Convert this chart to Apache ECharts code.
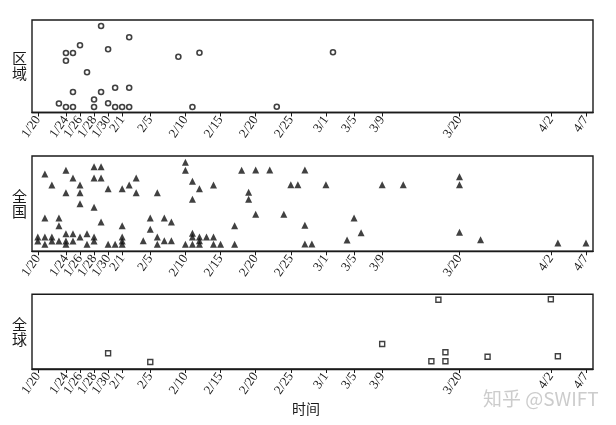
<!DOCTYPE html>
<html><head><meta charset="utf-8">
<script src="https://cdn.jsdelivr.net/npm/echarts@6/dist/echarts.min.js"></script>
<style>html,body{margin:0;padding:0;background:#fff}#c{width:616px;height:425px}</style>
</head><body><div id="c"></div>
<script>
// Tick labels on the date axis
const tickLabels = ['1/20','1/22','1/24','1/26','1/28','1/30','2/1','2/5','2/10','2/15','2/20','2/25','3/1','3/5','3/9','3/20','4/2','4/7'];

// 区域 (regional) events
const regionDates  = ['1/29','2/2','1/26','1/24','1/25','1/24','1/30','2/9','2/12','1/27','1/25','1/29','1/31','2/2','1/28','1/23','1/24','1/25','1/28','1/30','1/31','2/1','2/2','2/11','2/23','3/2'];
const regionValues = [86.5, 75.2, 67.2, 59.5, 59.5, 51.8, 63.2, 55.8, 59.8, 40.2, 20.5, 20.5, 24.8, 24.8, 13, 9, 5.5, 5.5, 5.5, 9.2, 5.5, 5.5, 5.5, 5.5, 5.8, 60.2];

// 全国 (national) events
const nationDates = [
 '1/20','1/20',
 '1/21','1/21','1/21','1/21',
 '1/22','1/22','1/22',
 '1/23','1/23','1/23',
 '1/24','1/24','1/24','1/24','1/24',
 '1/25','1/25','1/25',
 '1/26','1/26','1/26','1/26',
 '1/27','1/27',
 '1/28','1/28','1/28','1/28','1/28',
 '1/29','1/29','1/29',
 '1/30','1/30',
 '1/31',
 '2/1','2/1','2/1','2/1','2/1',
 '2/2',
 '2/3','2/3',
 '2/4',
 '2/5','2/5',
 '2/6','2/6','2/6',
 '2/7','2/7',
 '2/8','2/8',
 '2/10','2/10','2/10',
 '2/11','2/11','2/11','2/11','2/11',
 '2/12','2/12','2/12','2/12',
 '2/13',
 '2/14','2/14','2/14',
 '2/15',
 '2/17','2/17',
 '2/18',
 '2/19','2/19',
 '2/20','2/20',
 '2/22',
 '2/24',
 '2/25','2/26',
 '2/27','2/27','2/27',
 '2/28',
 '3/1','3/4','3/5','3/6','3/9','3/12',
 '3/20','3/20','3/20',
 '3/23','4/3','4/7'];
const nationValues = [
 14.3, 10.3,
 77.3, 33.3, 14.3, 7,
 66.3, 14.3, 10.3,
 33.3, 25.6, 10.3,
 81, 58.6, 17.6, 10.3, 7,
 73.3, 17.6, 10.3,
 66.3, 58.6, 47.6, 14.3,
 17.6, 7,
 84.6, 73.3, 44, 14.3, 10.3,
 84.6, 73.3, 29.3,
 62.6, 7,
 7,
 62.6, 25.6, 14.3, 10.3, 7,
 66.3,
 73.3, 58.6,
 10.6,
 33.3, 22,
 58.6, 14.3, 7,
 33.3, 10.6,
 29.3, 10.6,
 89, 81, 7,
 70, 52, 18, 14.3, 7,
 62.6, 14.3, 10.6, 7,
 14.3,
 66.3, 14.3, 7,
 7,
 25.6, 7,
 81,
 59, 52,
 81.3, 37,
 81.3,
 37,
 66.6, 66.6,
 81.3, 26, 7.3,
 7.3,
 66.6, 11.3, 33.3, 18.6, 66.6, 66.6,
 74.6, 66.6, 19,
 11.6, 8.3, 8.3];

// 全球 (global) events
const globalDates  = ['1/30','2/5','3/9','3/17','3/16','3/18','3/18','3/24','4/2','4/3'];
const globalValues = [15.7, 7, 25, 69.3, 7.7, 16.7, 7.7, 12.3, 69.7, 12.7];

const panelNames = ['区\n域', '全\n国', '全\n球'];
const axisTitle = '时间';

function dayNum(s) {
  const p = s.split('/');
  return Math.round((Date.UTC(2020, +p[0] - 1, +p[1]) - Date.UTC(2020, 0, 20)) / 86400000);
}
const tickDays = tickLabels.map(dayNum);
const pairs = (ds, vs) => ds.map((d, i) => [dayNum(d), vs[i]]);

const grids = [
  { left: 32, right: 23, top: 20, height: 92.5 },
  { left: 32, right: 23, top: 156, height: 95.3 },
  { left: 32, right: 23, top: 294.3, height: 74.7 }
];
const yMax = [92.5, 95.3, 74.7];
const serifFont = '"Liberation Serif", "DejaVu Serif", serif';
const cjkFont = '"Noto Sans CJK SC", sans-serif';

const option = {
  animation: false,
  backgroundColor: '#fff',
  grid: grids.map(g => Object.assign({ show: true, borderColor: '#1a1a1a', borderWidth: 1.4, backgroundColor: 'transparent' }, g)),
  xAxis: [0, 1, 2].map(i => ({
    type: 'value', gridIndex: i, min: -0.83, max: 79,
    axisLine: { show: true, lineStyle: { color: '#1a1a1a', width: 1.4 } },
    axisTick: { show: true, customValues: tickDays, length: 4, lineStyle: { color: '#1a1a1a', width: 1 } },
    axisLabel: {
      customValues: tickDays, rotate: 55, margin: 5,
      showMinLabel: true, showMaxLabel: true, hideOverlap: false,
      fontFamily: serifFont, fontSize: 13, color: '#1a1a1a',
      formatter: v => tickLabels[tickDays.indexOf(Math.round(v))] || ''
    },
    splitLine: { show: false },
    name: i === 2 ? axisTitle : '',
    nameLocation: 'middle', nameGap: 33,
    nameTextStyle: { fontFamily: cjkFont, fontSize: 14, color: '#1a1a1a', padding: [0, 13, 0, 0] }
  })),
  yAxis: [0, 1, 2].map(i => ({
    type: 'value', gridIndex: i, min: 0, max: yMax[i],
    axisLine: { show: false }, axisTick: { show: false }, axisLabel: { show: false }, splitLine: { show: false },
    name: panelNames[i], nameLocation: 'middle', nameRotate: 0, nameGap: 5,
    nameTextStyle: { fontFamily: cjkFont, fontSize: 15, lineHeight: 15, color: '#1a1a1a' }
  })),
  series: [
    { type: 'scatter', xAxisIndex: 0, yAxisIndex: 0, data: pairs(regionDates, regionValues),
      symbol: 'circle', symbolSize: 5, itemStyle: { color: '#fff', borderColor: '#111', borderWidth: 1.6 } },
    { type: 'scatter', xAxisIndex: 1, yAxisIndex: 1, data: pairs(nationDates, nationValues),
      symbol: 'triangle', symbolSize: 7, itemStyle: { color: '#111' } },
    { type: 'scatter', xAxisIndex: 2, yAxisIndex: 2, data: pairs(globalDates, globalValues),
      symbol: 'rect', symbolSize: 5, itemStyle: { color: '#fff', borderColor: '#111', borderWidth: 1.4 } }
  ],
  graphic: [{
    type: 'text', left: 483, top: 389,
    style: { text: '知乎 @SWIFT', fill: '#cccccc', font: '19px "Noto Sans CJK SC", sans-serif' }
  }]
};
const chart = echarts.init(document.getElementById('c'), null, { renderer: 'canvas' });
chart.setOption(option);
</script>
</body></html>
